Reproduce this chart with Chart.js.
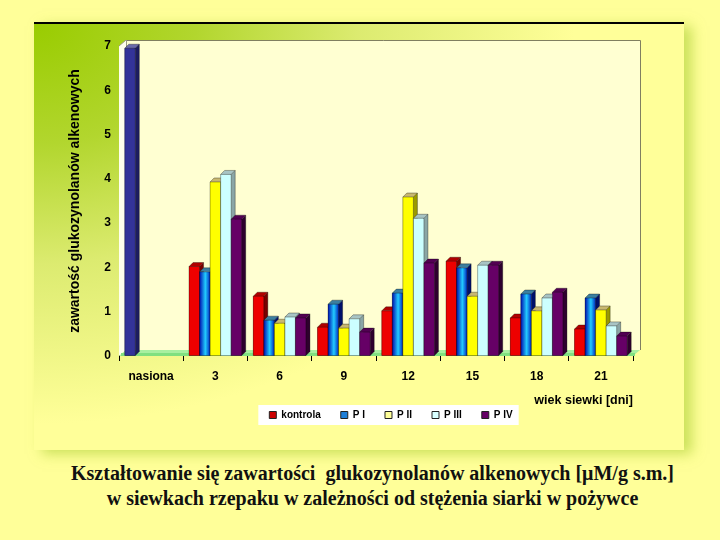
<!DOCTYPE html>
<html><head><meta charset="utf-8">
<script src="https://cdn.jsdelivr.net/npm/chart.js@4.4.1/dist/chart.umd.min.js"></script>
<style>
html,body{margin:0;padding:0;}
body{width:720px;height:540px;overflow:hidden;background:#FFFF99;position:relative;}
#panel{position:absolute;left:34px;top:22px;width:650px;height:428px;
 border-top:2px solid #000;box-sizing:border-box;
 background:radial-gradient(ellipse 540px 400px at 0% 0%, #99CC00 0%, #B2D62E 30%, #DCEB70 60%, #FFFF99 100%);
 box-shadow:8px 4px 12px rgba(160,200,40,0.55);}
#chartwrap{position:absolute;left:34px;top:22px;width:650px;height:428px;}
#cap{position:absolute;left:0;top:461px;width:745px;text-align:center;
 font-family:"Liberation Serif","Times New Roman",serif;font-weight:bold;font-size:20px;line-height:25px;color:#111;white-space:pre;}
</style></head>
<body>
<div id="panel"></div>
<div id="chartwrap"><canvas id="c" width="650" height="428"></canvas></div>
<div id="cap">Kształtowanie się zawartości  glukozynolanów alkenowych [μM/g s.m.]
w siewkach rzepaku w zależności od stężenia siarki w pożywce</div>
<script>
const categories = ['nasiona','3','6','9','12','15','18','21'];
const seriesNames = ['kontrola','P I','P II','P III','P IV'];
const kontrola = [6.95, 2.02, 1.35, 0.65, 1.02, 2.14, 0.86, 0.61];
const pI   = [null, 1.90, 0.81, 1.17, 1.42, 1.99, 1.40, 1.31];
const pII  = [null, 3.93, 0.74, 0.63, 3.59, 1.35, 1.02, 1.04];
const pIII = [null, 4.10, 0.88, 0.84, 3.11, 2.05, 1.31, 0.68];
const pIV  = [null, 3.09, 0.86, 0.54, 2.10, 2.05, 1.44, 0.45];
const yTicks = [0,1,2,3,4,5,6,7];
const yTitle = 'zawartość glukozynolanów alkenowych';
const xTitle = 'wiek siewki [dni]';

const frontColors = ['#EE0000','#1060D0','#FFFF00','#CCFFFF','#660066'];
const legendColors = ['#CC0000','#1E7FD8','#FFFF99','#D8FFFF','#660066'];
const faces = [
 {top:'#B00000', side:'#780000'},
 {top:'#3C7FA0', side:'#00106A'},
 {top:'#C8B870', side:'#9A9A00'},
 {top:'#A8C4C4', side:'#8AA6A6'},
 {top:'#520052', side:'#2E002E'}
];
const navy = {front:'#333399', top:'#6A6AAA', side:'#1C1C60'};

const F = '"Liberation Sans", Arial, sans-serif';
const D = 4;      // bar depth
const WD = 7, WH = 6; // wall depth

const wallPlugin = {
  id:'walls',
  afterLayout(chart){
    const lg = chart.legend;
    if(lg){ lg.left += 15; lg.right += 15; lg.top -= 18; lg.bottom -= 18; }
  },
  beforeDraw(chart){
    const lg = chart.legend, ctx = chart.ctx;
    if(lg && lg.legendHitBoxes && lg.legendHitBoxes.length){
      const hb = lg.legendHitBoxes;
      const l = hb[0].left - 11, r = hb[hb.length-1].left + hb[hb.length-1].width + 6;
      const t = hb[0].top - 5;
      ctx.save(); ctx.fillStyle = '#FFFFFF'; ctx.fillRect(l, t, r-l, 20); ctx.restore();
    }
  },
  beforeDatasetsDraw(chart){
    const a = chart.chartArea, ctx = chart.ctx;
    ctx.save();
    ctx.fillStyle = '#FFFFD2';
    ctx.fillRect(a.left+WD, a.top-WH, a.right-a.left, a.bottom-a.top);
    ctx.strokeStyle = '#807F60'; ctx.lineWidth = 1;
    ctx.beginPath();
    ctx.moveTo(a.left+WD, a.top-WH+0.5); ctx.lineTo(a.right+WD+0.5, a.top-WH+0.5);
    ctx.lineTo(a.right+WD+0.5, a.bottom-WH);
    ctx.stroke();
    ctx.fillStyle = '#FFFFEC';
    ctx.beginPath();
    ctx.moveTo(a.left, a.top); ctx.lineTo(a.left+WD, a.top-WH);
    ctx.lineTo(a.left+WD, a.bottom-WH); ctx.lineTo(a.left, a.bottom); ctx.closePath();
    ctx.fill();
    ctx.strokeStyle = '#9A9A80';
    ctx.beginPath(); ctx.moveTo(a.left, a.top); ctx.lineTo(a.left+WD, a.top-WH);
    ctx.moveTo(a.left+WD+0.5, a.top-WH); ctx.lineTo(a.left+WD+0.5, a.bottom-WH); ctx.stroke();
    ctx.fillStyle = '#A8F0A0';
    ctx.beginPath();
    ctx.moveTo(a.left, a.bottom); ctx.lineTo(a.left+WD, a.bottom-WH);
    ctx.lineTo(a.right+WD, a.bottom-WH); ctx.lineTo(a.right, a.bottom); ctx.closePath();
    ctx.fill();
    ctx.fillStyle = '#80E080';
    ctx.fillRect(a.left+2, a.bottom-3, a.right-a.left, 3);
    ctx.restore();
  },
  afterDatasetsDraw(chart){
    const ctx = chart.ctx;
    ctx.save();
    chart.data.datasets.forEach((ds, i) => {
      const meta = chart.getDatasetMeta(i);
      meta.data.forEach((el, j) => {
        const v = ds.data[j];
        if(v === null || v === undefined) return;
        const p = el.getProps(['x','y','base','width'], true);
        const isNavy = (i === 0 && j === 0);
        const x1 = p.x - p.width/2, x2 = p.x + p.width/2, y = p.y, b = p.base;
        const fc = isNavy ? navy : faces[i];
        if(i === 1){
          const g = ctx.createLinearGradient(x1,0,x2,0);
          g.addColorStop(0,'#0010B0'); g.addColorStop(0.55,'#22CCFF'); g.addColorStop(1,'#0028C0');
          ctx.fillStyle = g;
        } else ctx.fillStyle = isNavy ? navy.front : frontColors[i];
        ctx.fillRect(x1, y, p.width, b-y);
        ctx.fillStyle = fc.top;
        ctx.beginPath(); ctx.moveTo(x1,y); ctx.lineTo(x1+D,y-D); ctx.lineTo(x2+D,y-D); ctx.lineTo(x2,y); ctx.closePath(); ctx.fill();
        ctx.fillStyle = fc.side;
        ctx.beginPath(); ctx.moveTo(x2,y); ctx.lineTo(x2+D,y-D); ctx.lineTo(x2+D,b-D); ctx.lineTo(x2,b); ctx.closePath(); ctx.fill();
        ctx.strokeStyle = 'rgba(0,0,0,0.55)'; ctx.lineWidth = 0.6;
        ctx.beginPath();
        ctx.moveTo(x1,b); ctx.lineTo(x1,y); ctx.lineTo(x1+D,y-D); ctx.lineTo(x2+D,y-D); ctx.lineTo(x2+D,b-D); ctx.lineTo(x2,b); ctx.closePath();
        ctx.moveTo(x2,b); ctx.lineTo(x2,y); ctx.lineTo(x1,y); ctx.moveTo(x2,y); ctx.lineTo(x2+D,y-D);
        ctx.stroke();
      });
    });
    ctx.restore();
  }
};

const dataArrays = [kontrola, pI, pII, pIII, pIV];
const datasets = dataArrays.map((arr, i) => ({
  label: seriesNames[i],
  data: arr,
  backgroundColor: i === 0 ? arr.map((v,j) => j === 0 ? navy.front : frontColors[0]) : frontColors[i],
  borderWidth: 0,
  categoryPercentage: 0.82,
  barPercentage: 1.0
}));

new Chart(document.getElementById('c'), {
  type: 'bar',
  data: { labels: categories, datasets },
  options: {
    responsive: false,
    animation: false,
    layout: { padding: { left: 0, right: 51, top: 24, bottom: 2 } },
    plugins: {
      tooltip: { enabled: false },
      legend: {
        position: 'bottom',
        fullSize: false,
        labels: {
          boxWidth: 7, boxHeight: 7, padding: 20,
          color: '#000',
          font: { family: F, size: 10, weight: 'bold' },
          generateLabels: () => seriesNames.map((n, i) => ({
            text: n, fillStyle: legendColors[i], strokeStyle: '#222', lineWidth: 1,
            hidden: false, datasetIndex: i, fontColor: '#000'
          }))
        }
      }
    },
    scales: {
      x: {
        grid: { display: true, drawOnChartArea: false, drawTicks: true, tickLength: 5, color: '#000', offset: true },
        border: { display: false },
        ticks: { color: '#000', padding: 8, font: { family: F, size: 12, weight: 'bold' }, maxRotation: 0 },
        title: { display: true, text: xTitle, align: 'end', color: '#000',
                 font: { family: F, size: 12.5, weight: 'bold' }, padding: { top: 0, bottom: 0 } },
        afterFit(s){ s.height = 52; }
      },
      y: {
        min: 0, max: 7,
        afterBuildTicks(s){ s.ticks = yTicks.map(v => ({ value: v })); },
        grid: { display: true, drawOnChartArea: false, drawTicks: false },
        border: { display: true, color: '#000', width: 1 },
        ticks: { color: '#000', padding: 8, font: { family: F, size: 12, weight: 'bold' } },
        title: { display: true, text: yTitle, color: '#000',
                 font: { family: F, size: 14, weight: 'bold' }, padding: { top: 33, bottom: 0 } },
        afterFit(s){ s.width = 85; }
      }
    }
  },
  plugins: [wallPlugin]
});
</script>
</body></html>
